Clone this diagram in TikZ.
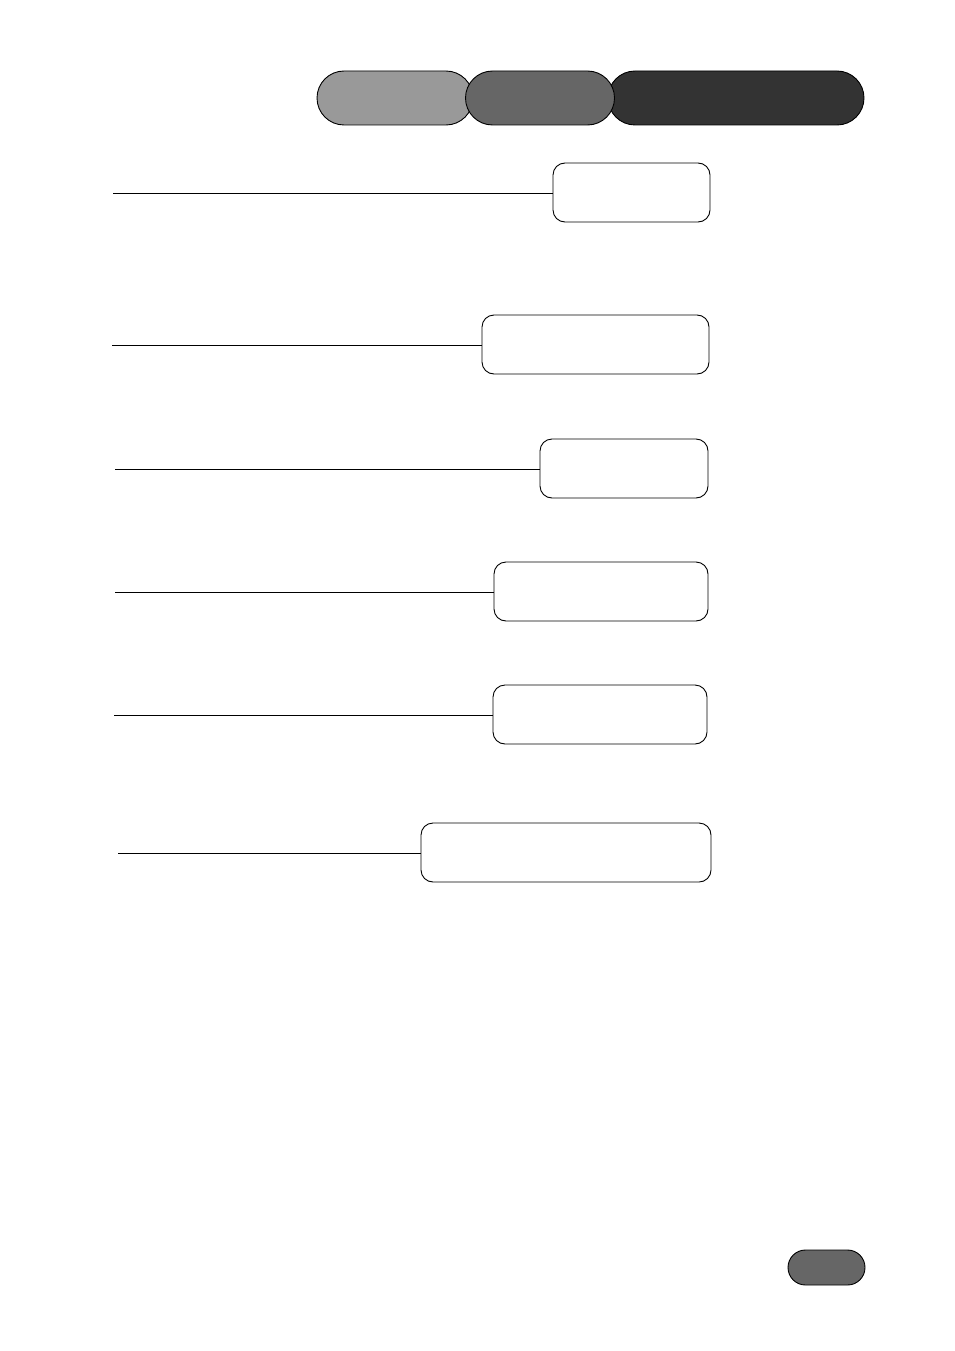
\documentclass[tikz,border=0pt]{standalone}
\begin{document}
\begin{tikzpicture}[x=1pt,y=-1pt,
  tabpill/.style={draw=black,line width=0.9pt,rounded corners=27pt,inner sep=0pt,minimum height=54pt},
  textbox/.style={draw=black,line width=0.9pt,rounded corners=12pt,fill=white,inner sep=0pt,minimum height=59pt},
  leader/.style={draw=black,line width=0.9pt}]
\useasboundingbox (0,0) rectangle (954,1351);
% tabs
\node[tabpill,fill=black!40,minimum width=156pt] (tabA) at (395,98) {};
\node[tabpill,fill=black!80,minimum width=256pt] (tabC) at (736,98) {};
\node[tabpill,fill=black!60,minimum width=149pt] (tabB) at (540,98) {};
% boxes
\node[textbox,minimum width=157pt] (b1) at (631.5,192.5) {};
\node[textbox,minimum width=227pt] (b2) at (595.5,344.5) {};
\node[textbox,minimum width=168pt] (b3) at (624,468.5) {};
\node[textbox,minimum width=214pt] (b4) at (601,591.5) {};
\node[textbox,minimum width=214pt] (b5) at (600,714.5) {};
\node[textbox,minimum width=290pt] (b6) at (566,852.5) {};
% leader ends
\coordinate (l1) at (113,193);
\coordinate (l2) at (112,345);
\coordinate (l3) at (115,469);
\coordinate (l4) at (115,592);
\coordinate (l5) at (114,715);
\coordinate (l6) at (118,853);
\draw[leader] (l1) -- (b1.west |- l1);
\draw[leader] (l2) -- (b2.west |- l2);
\draw[leader] (l3) -- (b3.west |- l3);
\draw[leader] (l4) -- (b4.west |- l4);
\draw[leader] (l5) -- (b5.west |- l5);
\draw[leader] (l6) -- (b6.west |- l6);
% page pill
\node[draw=black,line width=0.9pt,fill=black!60,rounded corners=17.5pt,inner sep=0pt,minimum width=77pt,minimum height=35pt] (pg) at (826.5,1267.5) {};
\end{tikzpicture}
\end{document}
